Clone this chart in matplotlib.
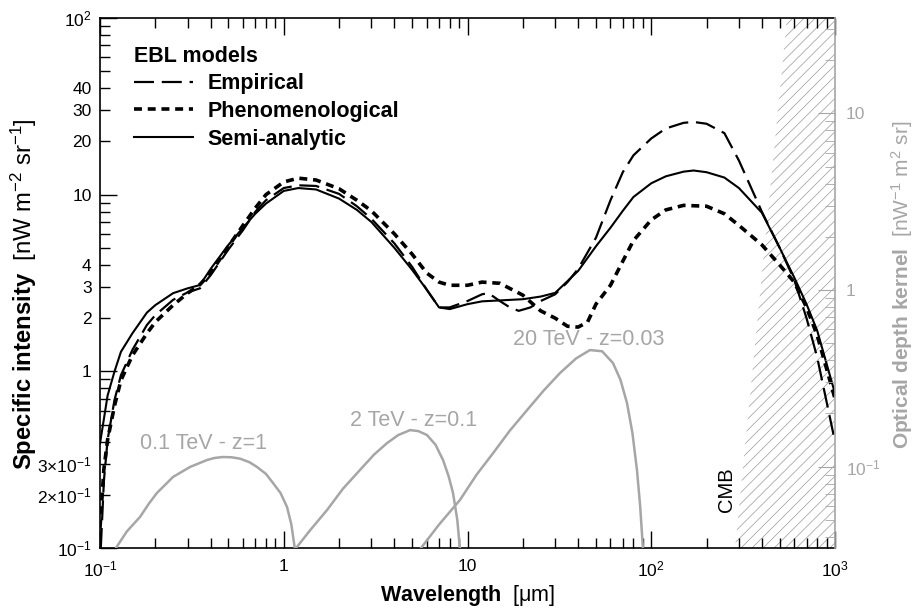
import matplotlib
matplotlib.use("Agg")
import matplotlib.pyplot as plt
from matplotlib.ticker import LogLocator, FuncFormatter, NullFormatter

plt.rcParams.update({
    "font.family": ["Liberation Sans", "DejaVu Sans"],
    "mathtext.fontset": "custom",
    "mathtext.rm": "Liberation Sans",
    "mathtext.it": "Liberation Sans:italic",
    "mathtext.bf": "Liberation Sans:bold",
    "hatch.linewidth": 0.5,
})

# ---- EBL spectra: wavelength [um] and specific intensity [nW m^-2 sr^-1] ----
wl_semi = [0.1, 0.11, 0.12, 0.13, 0.15, 0.18, 0.2, 0.25, 0.3, 0.35, 0.4, 0.5, 0.6, 0.7, 0.8,
           1.0, 1.2, 1.5, 2, 2.5, 3, 4, 5, 6, 7, 8, 10, 12, 15, 20, 25, 30, 40, 50, 60, 70,
           80, 100, 120, 150, 170, 200, 250, 300, 400, 500, 600, 700, 800, 1000]
I_semi = [0.39, 0.73, 1.0, 1.29, 1.64, 2.15, 2.37, 2.77, 2.95, 3.08, 3.8, 5.2, 6.5, 7.8, 8.9,
          10.5, 10.9, 10.7, 9.5, 8.2, 7.0, 5.0, 3.75, 2.9, 2.3, 2.25, 2.4, 2.49, 2.52, 2.56,
          2.65, 2.78, 3.7, 5.1, 6.5, 8.1, 9.7, 11.6, 12.7, 13.5, 13.7, 13.4, 12.5, 10.9, 7.9,
          5.0, 3.4, 2.4, 1.7, 0.75]

wl_emp = [0.101, 0.105, 0.11, 0.12, 0.13, 0.15, 0.18, 0.2, 0.25, 0.3, 0.35, 0.4, 0.5, 0.6,
          0.7, 0.8, 1.0, 1.2, 1.5, 2, 2.5, 3, 4, 5, 6, 7, 8, 10, 12, 13, 15, 17, 19, 22, 25,
          30, 35, 40, 50, 60, 70, 80, 100, 120, 150, 170, 200, 250, 300, 400, 500, 600, 700,
          800, 1000]
I_emp = [0.1, 0.24, 0.41, 0.69, 0.95, 1.32, 1.83, 2.08, 2.54, 2.8, 2.95, 3.5, 4.9, 6.3,
         8.0, 9.3, 10.9, 11.3, 11.2, 10.1, 8.6, 7.3, 5.3, 3.9, 2.9, 2.3, 2.3, 2.5, 2.73, 2.77,
         2.5, 2.3, 2.2, 2.3, 2.5, 2.73, 3.2, 3.8, 5.7, 9.3, 13.4, 16.7, 20.8, 23.7, 25.5,
         25.8, 25.2, 22.3, 15.6, 8.0, 5.0, 3.3, 2.0, 1.2, 0.40]

wl_phen = [0.1, 0.105, 0.11, 0.12, 0.13, 0.15, 0.18, 0.2, 0.25, 0.3, 0.35, 0.4, 0.5, 0.6,
           0.7, 0.8, 1.0, 1.2, 1.5, 2, 2.5, 3, 4, 5, 6, 7, 8, 10, 12, 15, 20, 25, 30, 35, 40,
           45, 50, 60, 70, 80, 100, 120, 150, 200, 250, 300, 400, 500, 600, 700, 800, 1000]
I_phen = [0.13, 0.28, 0.41, 0.64, 0.89, 1.23, 1.64, 1.9, 2.37, 2.77, 3.1, 3.6, 5.1, 6.7,
          8.4, 10.0, 11.8, 12.4, 12.1, 10.8, 9.3, 8.1, 6.0, 4.6, 3.6, 3.2, 3.07, 3.07, 3.2,
          3.15, 2.7, 2.2, 2.0, 1.8, 1.78, 1.9, 2.4, 3.07, 4.2, 5.5, 7.2, 8.2, 8.7, 8.6, 7.8,
          6.7, 5.2, 4.0, 3.2, 2.3, 1.6, 0.7]

# ---- optical depth kernels [nW^-1 m^2 sr] ----
wl_k01 = [0.1207, 0.14, 0.1651, 0.185, 0.2042, 0.2496, 0.309, 0.382, 0.42, 0.467, 0.52,
          0.578, 0.65, 0.715, 0.8, 0.874, 0.96, 1.042, 1.1, 1.151]
k_01 = [0.034, 0.043, 0.0519, 0.062, 0.071, 0.0874, 0.0996, 0.109, 0.112, 0.1134, 0.113,
        0.111, 0.106, 0.0996, 0.091, 0.0808, 0.071, 0.0591, 0.047, 0.034]

wl_k2 = [1.151, 1.4, 1.72, 2.1, 2.6, 3.1, 3.65, 4.2, 4.87, 5.4, 6.02, 6.7, 7.36, 7.9, 8.34,
         8.8, 9.1]
k_2 = [0.034, 0.044, 0.0568, 0.075, 0.0958, 0.117, 0.136, 0.151, 0.161, 0.159, 0.151,
       0.133, 0.109, 0.088, 0.071, 0.05, 0.034]

wl_k20 = [5.51, 7, 9.1, 11.2, 13.8, 17, 21.1, 26, 31.9, 39, 46.4, 54, 61.9, 68, 73.8, 79,
          83.6, 87, 90.2]
k_20 = [0.034, 0.047, 0.0648, 0.09, 0.1195, 0.16, 0.209, 0.27, 0.339, 0.41, 0.457, 0.45,
        0.386, 0.31, 0.229, 0.155, 0.0958, 0.06, 0.034]

# CMB-dominated region (left edge)
cmb_wl = [286, 548]
cmb_I = [0.1, 100]

kernel_labels = ["0.1 TeV - z=1", "2 TeV - z=0.1", "20 TeV - z=0.03"]

GRAY = "#a6a6a6"
KSCALE = 2.887  # left-axis units per right-axis unit

fig = plt.figure(figsize=(9.14, 6.09), dpi=100)
ax = fig.add_axes([100 / 914, 1 - 548 / 609, 735 / 914, 530 / 609])
ax.set_xscale("log")
ax.set_yscale("log")
ax.set_xlim(0.1, 1000)
ax.set_ylim(0.1, 100)

# CMB hatched region
ax.fill([cmb_wl[0], cmb_wl[1], 1000, 1000], [cmb_I[0], cmb_I[1], cmb_I[1], cmb_I[0]],
        facecolor="none", edgecolor="#9a9a9a", hatch="///", linewidth=0, zorder=1)
ax.text(258, 0.213, "CMB", rotation=90, ha="center", va="center", fontsize=14.5)

l_emp, = ax.plot(wl_emp, I_emp, color="black", lw=1.6, linestyle=(0, (9, 3.5)),
                 label="Empirical", zorder=3)
l_phen, = ax.plot(wl_phen, I_phen, color="black", lw=2.6, linestyle=(0, (2.2, 1.6)),
                  label="Phenomenological", zorder=3)
l_semi, = ax.plot(wl_semi, I_semi, color="black", lw=1.5, label="Semi-analytic", zorder=3)

leg = ax.legend(handles=[l_emp, l_phen, l_semi], title="EBL models", loc="upper left",
                bbox_to_anchor=(0.046, 0.948), frameon=False, fontsize=15.5,
                title_fontsize=15.5, handlelength=2.75, handletextpad=0.68,
                labelspacing=0.31, borderpad=0, borderaxespad=0, alignment="left")
leg.get_title().set_fontweight("bold")
for t in leg.get_texts():
    t.set_fontweight("bold")


def ylab(v, pos=None):
    table = {0.1: r"10$^{-1}$", 0.2: r"2×10$^{-1}$", 0.3: r"3×10$^{-1}$",
             1.0: "1", 2.0: "2", 3.0: "3", 4.0: "4", 10.0: "10", 20.0: "20", 30.0: "30",
             40.0: "40", 100.0: r"10$^{2}$"}
    for k, s in table.items():
        if abs(v - k) < 1e-6 * k:
            return s
    return ""


def xlab(v, pos=None):
    table = {0.1: r"10$^{-1}$", 1.0: "1", 10.0: "10", 100.0: r"10$^{2}$", 1000.0: r"10$^{3}$"}
    for k, s in table.items():
        if abs(v - k) < 1e-6 * k:
            return s
    return ""


ax.yaxis.set_major_locator(LogLocator(base=10, numticks=10))
ax.yaxis.set_minor_locator(LogLocator(base=10, subs=range(2, 10), numticks=20))
ax.yaxis.set_major_formatter(FuncFormatter(ylab))
ax.yaxis.set_minor_formatter(FuncFormatter(ylab))
ax.xaxis.set_major_locator(LogLocator(base=10, numticks=10))
ax.xaxis.set_minor_locator(LogLocator(base=10, subs=range(2, 10), numticks=20))
ax.xaxis.set_major_formatter(FuncFormatter(xlab))
ax.xaxis.set_minor_formatter(NullFormatter())

ax.tick_params(which="both", direction="in", top=True, right=False, labelsize=12.5,
               width=1.0, color="black")
ax.tick_params(which="major", length=12)
ax.tick_params(which="minor", length=7)
ax.tick_params(axis="y", which="both", pad=6)
ax.tick_params(axis="x", which="major", pad=8)
ax.spines["right"].set_visible(False)
for s in ("left", "top", "bottom"):
    ax.spines[s].set_linewidth(1.2)

ax.set_xlabel(r"$\mathbf{Wavelength}$  [μm]", fontsize=15.5)
ax.xaxis.set_label_coords(0.5, -0.066)
ax.set_ylabel(r"$\mathbf{Specific\ intensity}$  [nW m$^{-2}$ sr$^{-1}$]", fontsize=17.2)
ax.yaxis.set_label_coords(-0.083, 0.479)

# right axis: optical depth kernel
ax2 = ax.twinx()
ax2.set_yscale("log")
ax2.set_ylim(0.1 / KSCALE, 100 / KSCALE)
ax2.plot(wl_k01, k_01, color=GRAY, lw=1.8, zorder=2)
ax2.plot(wl_k2, k_2, color=GRAY, lw=1.8, zorder=2)
ax2.plot(wl_k20, k_20, color=GRAY, lw=1.8, zorder=2)

ax2.text(0.165, 0.39 / KSCALE, kernel_labels[0], color=GRAY, fontsize=15.5,
         ha="left", va="center")
ax2.text(2.29, 0.53 / KSCALE, kernel_labels[1], color=GRAY, fontsize=15.5,
         ha="left", va="center")
ax2.text(17.7, 1.52 / KSCALE, kernel_labels[2], color=GRAY, fontsize=15.5,
         ha="left", va="center")


def rlab(v, pos=None):
    table = {0.1: r"10$^{-1}$", 1.0: "1", 10.0: "10"}
    for k, s in table.items():
        if abs(v - k) < 1e-6 * k:
            return s
    return ""


ax2.yaxis.set_major_locator(LogLocator(base=10, numticks=10))
ax2.yaxis.set_minor_locator(LogLocator(base=10, subs=range(2, 10), numticks=20))
ax2.yaxis.set_major_formatter(FuncFormatter(rlab))
ax2.yaxis.set_minor_formatter(NullFormatter())
ax2.tick_params(which="both", direction="in", color=GRAY, labelcolor=GRAY, labelsize=12.5,
                pad=8)
ax2.tick_params(which="major", length=12)
ax2.tick_params(which="minor", length=7)
for s in ("left", "top", "bottom"):
    ax2.spines[s].set_visible(False)
ax2.spines["right"].set_color(GRAY)
ax2.spines["right"].set_linewidth(1.2)
ax2.set_ylabel(r"$\mathbf{Optical\ depth\ kernel}$  [nW$^{-1}$ m$^{2}$ sr]", fontsize=15,
               color=GRAY)
ax2.yaxis.set_label_coords(1.073, 0.497)

fig.savefig("out.png", dpi=100)
